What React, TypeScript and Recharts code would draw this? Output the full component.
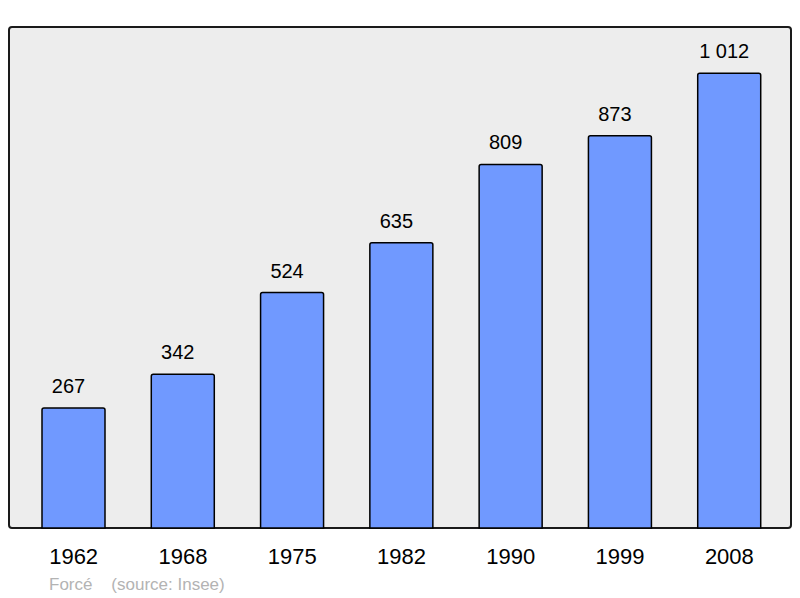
import * as React from "react";
import { BarChart, Bar, XAxis, YAxis, LabelList } from "recharts";

const YEARS = ["1962", "1968", "1975", "1982", "1990", "1999", "2008"];
const POPULATION = [267, 342, 524, 635, 809, 873, 1012];
const Y_MAX = 1115;

const FONT = '"Liberation Sans", Arial, sans-serif';

const data = YEARS.map((year, i) => ({ year, value: POPULATION[i] }));

// French thousands separator, kept on one line
const fmt = (v: number) => String(v).replace(/\B(?=(\d{3})+(?!\d))/g, "\u00a0");

export default function App() {
  return (
    <div style={{ position: "absolute", left: 0, top: 0, width: 800, height: 598, background: "#fff", fontFamily: FONT }}>
      {/* plot frame */}
      <div
        style={{
          position: "absolute",
          left: 8,
          top: 26,
          width: 780,
          height: 499,
          background: "#ededed",
          border: "2px solid #1a1a1a",
          borderRadius: 4,
        }}
      />
      <div style={{ position: "absolute", left: 0, top: 0 }}>
        <BarChart
          width={800}
          height={598}
          data={data}
          margin={{ top: 27, right: 9, left: 9, bottom: 0 }}
          barSize={63}
        >
          <XAxis
            dataKey="year"
            height={70}
            axisLine={false}
            tickLine={false}
            tickSize={0}
            tickMargin={20}
            padding={{ left: 10, right: 7 }}
            tick={{ fill: "#000", fontSize: 22, fontFamily: FONT }}
            interval={0}
          />
          <YAxis hide domain={[0, Y_MAX]} />
          <Bar
            dataKey="value"
            fill="#7099ff"
            stroke="#000"
            strokeWidth={1.5}
            radius={[2, 2, 0, 0]}
            isAnimationActive={false}
          >
            <LabelList
              dataKey="value"
              position="top"
              offset={15}
              dx={-5}
              formatter={(v: number) => fmt(v)}
              style={{ fill: "#000", fontSize: 20, fontFamily: FONT }}
            />
          </Bar>
        </BarChart>
      </div>
      <div style={{ position: "absolute", left: 49, top: 575, fontSize: 17, color: "#b3b3b3", whiteSpace: "pre" }}>
        {"Forcé    (source: Insee)"}
      </div>
    </div>
  );
}
